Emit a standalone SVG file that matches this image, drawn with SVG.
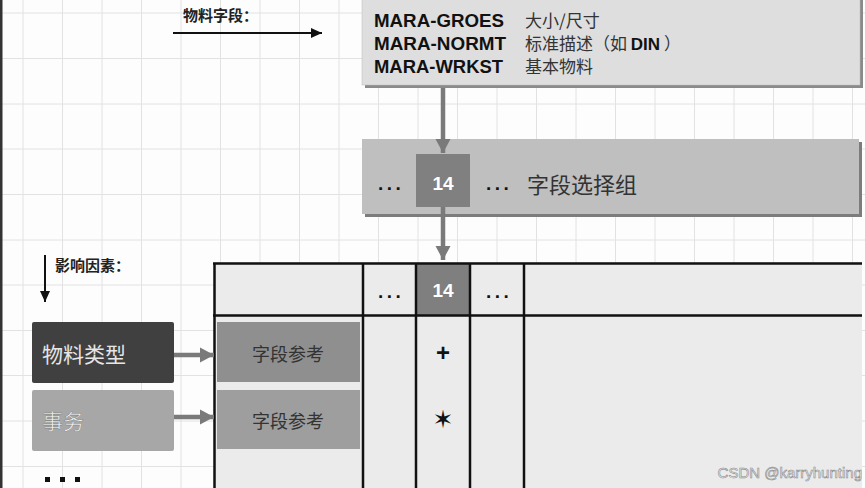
<svg xmlns="http://www.w3.org/2000/svg" width="865" height="488" viewBox="0 0 865 488">
<style>
.lat{font-family:"Liberation Sans",Arial,sans-serif;font-weight:bold;fill:#111}
.cjk{font-family:"Noto Sans CJK SC","Noto Sans",sans-serif}
.dots{font-family:"Liberation Sans",Arial,sans-serif;font-weight:bold;fill:#111;font-size:19px;letter-spacing:3.5px}
.grid{stroke:#e2e2e2;stroke-width:1;fill:none}
.tl{stroke:#111;stroke-width:2.5;fill:none}
.ga{stroke:#7a7a7a;stroke-width:4.5;fill:none}
.ba{stroke:#111;stroke-width:2;fill:none}
</style>
<defs>
<marker id="gh" markerUnits="userSpaceOnUse" markerWidth="16" markerHeight="16" refX="14" refY="8" orient="auto">
<path d="M0,0.5 L14,8 L0,15.5 z" fill="#7a7a7a"/>
</marker>
<marker id="bh" markerUnits="userSpaceOnUse" markerWidth="12" markerHeight="12" refX="11" refY="5" orient="auto">
<path d="M0,0 L11,5 L0,10 z" fill="#111"/>
</marker>
</defs>
<rect width="865" height="488" fill="#fdfdfd"/>
<path class="grid" d="M23,0V488M62.5,0V488M102,0V488M141.5,0V488M181,0V488M220.5,0V488M260,0V488M299.5,0V488M339,0V488M378.5,0V488M418,0V488M457.5,0V488M497,0V488M536.5,0V488M576,0V488M615.5,0V488M655,0V488M694.5,0V488M734,0V488M773.5,0V488M813,0V488M852.5,0V488M0,13H865M0,58.5H865M0,104H865M0,149H865M0,194.5H865M0,240H865M0,285H865M0,330.5H865M0,375.5H865M0,421H865M0,466.5H865"/>
<rect x="0" y="0" width="2.5" height="488" fill="#333"/>

<g id="label-fields">
<text class="cjk" x="183" y="21" font-size="15" font-weight="bold" fill="#222">物料字段：</text>
</g>
<g id="label-factors">
<text class="cjk" x="55" y="271" font-size="15" font-weight="bold" fill="#222">影响因素：</text>
</g>

<g id="node-fields">
<rect x="365" y="-2" width="498" height="90" fill="#8a8a8a"/>
<rect x="362" y="-5" width="498" height="90" fill="#dedede" stroke="#bdbdbd" stroke-width="0.5"/>
<text class="lat" x="374" y="27" font-size="17.5" textLength="130" lengthAdjust="spacingAndGlyphs">MARA-GROES</text>
<text class="lat" x="374" y="50" font-size="17.5" textLength="132" lengthAdjust="spacingAndGlyphs">MARA-NORMT</text>
<text class="lat" x="374" y="73" font-size="17.5" textLength="129" lengthAdjust="spacingAndGlyphs">MARA-WRKST</text>
<text class="cjk" x="525" y="27" font-size="17" fill="#333">大小/尺寸</text>
<text class="cjk" x="525" y="50" font-size="17" fill="#333">标准描述（如 <tspan font-family="Liberation Sans,Arial,sans-serif" font-weight="bold" fill="#111">DIN</tspan> ）</text>
<text class="cjk" x="525" y="73" font-size="17" fill="#333">基本物料</text>
</g>

<g id="node-group">
<rect x="365" y="142" width="497" height="75" fill="#7c7c7c"/>
<rect x="362" y="139" width="497" height="75" fill="#bfbfbf"/>
<rect x="416" y="154" width="54" height="53" fill="#808080"/>
<text class="lat" x="443" y="190" font-size="19" text-anchor="middle" style="fill:#fff">14</text>
<text class="dots" x="378" y="190">...</text>
<text class="dots" x="486" y="190">...</text>
<text class="cjk" x="527" y="193" font-size="22" fill="#333">字段选择组</text>
</g>

<g id="node-table">
<rect x="214" y="262" width="648" height="226" fill="#ebebeb"/>
<rect x="416" y="263" width="54" height="52" fill="#7f7f7f"/>
<rect x="217" y="322" width="143" height="60" fill="#8f8f8f"/>
<rect x="217" y="390" width="143" height="59" fill="#9e9e9e"/>
<path class="tl" d="M213,263.5H862M213,315.5H862M214.5,263V488M363,263V488M416,263V488M470,263V488M524,263V488"/>
<text class="lat" x="443" y="297" font-size="19" text-anchor="middle" style="fill:#fff">14</text>
<text class="dots" x="378" y="298">...</text>
<text class="dots" x="486" y="298">...</text>
<text class="cjk" x="288" y="361" font-size="18" text-anchor="middle" fill="#333">字段参考</text>
<text class="cjk" x="288" y="428" font-size="18" text-anchor="middle" fill="#333">字段参考</text>
<text class="lat" x="443" y="361" font-size="24" text-anchor="middle">+</text>
<text x="443" y="428" font-size="25" font-weight="bold" text-anchor="middle" font-family="DejaVu Sans,sans-serif" fill="#111">✶</text>
</g>

<g id="node-material-type">
<rect x="32" y="322" width="142" height="61" rx="2" fill="#404040"/>
<text class="cjk" x="42" y="362" font-size="21" fill="#e6e6e6">物料类型</text>
</g>
<g id="node-transaction">
<rect x="32" y="390" width="142" height="61" rx="2" fill="#a7a7a7"/>
<text class="cjk" x="42" y="429" font-size="21" fill="#f2f2f2" stroke="#777" stroke-width="0.4">事务</text>
</g>
<g id="node-more">
<rect x="45" y="477" width="5" height="5" fill="#111"/>
<rect x="60" y="477" width="5" height="5" fill="#111"/>
<rect x="75" y="477" width="5" height="5" fill="#111"/>
</g>

<g id="connectors">
<line class="ba" x1="173" y1="33" x2="322" y2="33" marker-end="url(#bh)"/>
<line class="ba" x1="45" y1="255" x2="45" y2="302" marker-end="url(#bh)"/>
<line class="ga" x1="443" y1="88" x2="443" y2="153" marker-end="url(#gh)"/>
<line class="ga" x1="443" y1="207" x2="443" y2="260" marker-end="url(#gh)"/>
<line class="ga" x1="174" y1="355" x2="214" y2="355" marker-end="url(#gh)"/>
<line class="ga" x1="174" y1="417" x2="214" y2="417" marker-end="url(#gh)"/>
</g>

<text x="862" y="478" font-size="15" text-anchor="end" font-family="Liberation Sans,Arial,sans-serif" fill="#f6f6f6" stroke="#8a8a8a" stroke-width="0.6">CSDN @karryhunting</text>
</svg>
